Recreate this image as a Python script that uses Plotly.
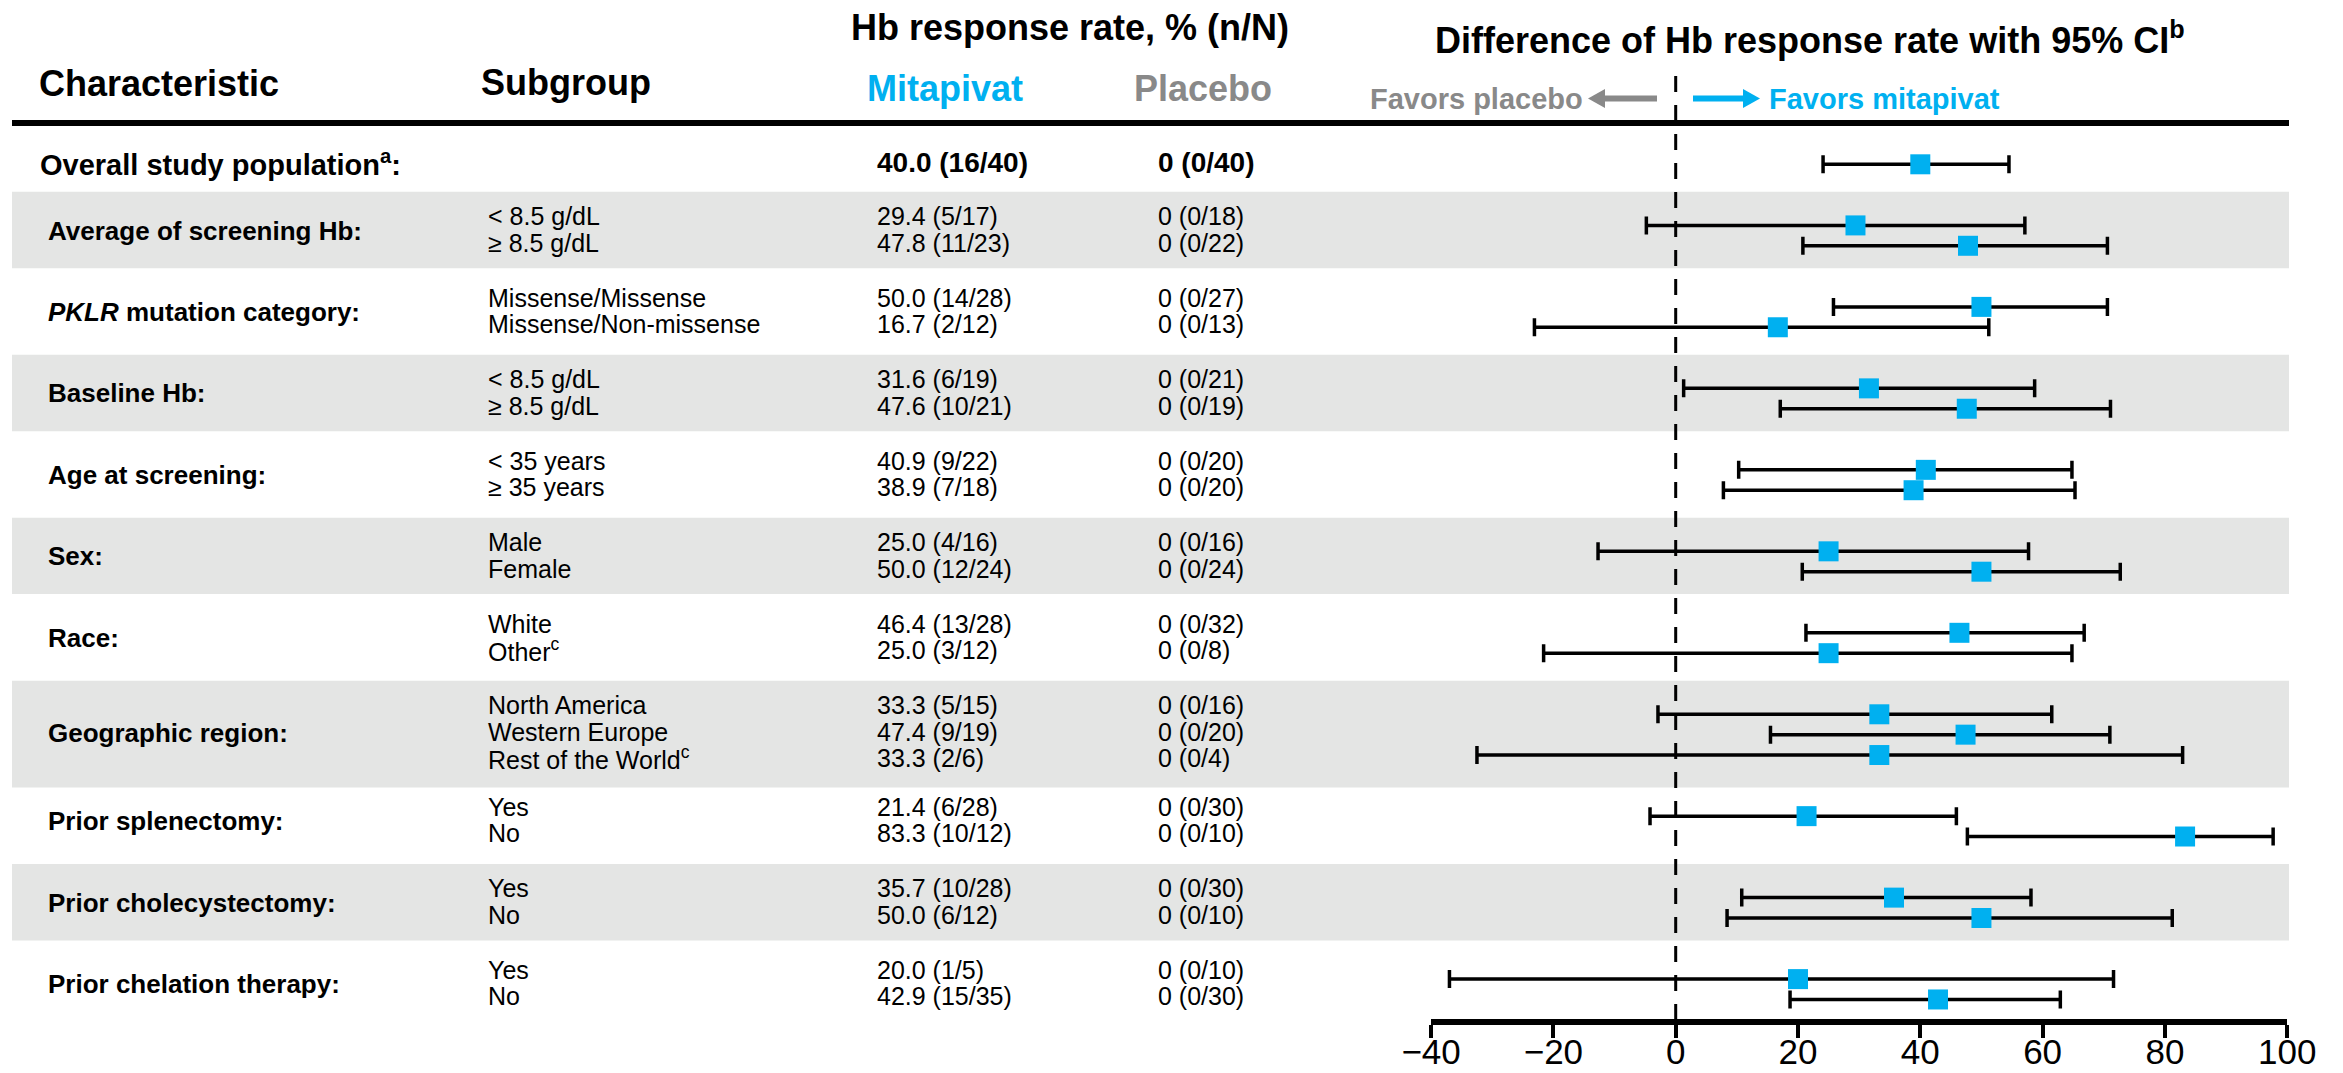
import plotly.graph_objects as go

# ---------------- data ----------------
characteristics = [
    "Overall study population<sup>a</sup>:",
    "Average of screening Hb:",
    "<i>PKLR</i> mutation category:",
    "Baseline Hb:",
    "Age at screening:",
    "Sex:",
    "Race:",
    "Geographic region:",
    "Prior splenectomy:",
    "Prior cholecystectomy:",
    "Prior chelation therapy:",
]
group_sizes = [1, 2, 2, 2, 2, 2, 2, 3, 2, 2, 2]

subgroups = [
    "",
    "< 8.5 g/dL", "≥ 8.5 g/dL",
    "Missense/Missense", "Missense/Non-missense",
    "< 8.5 g/dL", "≥ 8.5 g/dL",
    "< 35 years", "≥ 35 years",
    "Male", "Female",
    "White", "Other<sup>c</sup>",
    "North America", "Western Europe", "Rest of the World<sup>c</sup>",
    "Yes", "No",
    "Yes", "No",
    "Yes", "No",
]
mitapivat_pct = [40.0, 29.4, 47.8, 50.0, 16.7, 31.6, 47.6, 40.9, 38.9, 25.0, 50.0,
                 46.4, 25.0, 33.3, 47.4, 33.3, 21.4, 83.3, 35.7, 50.0, 20.0, 42.9]
mitapivat_n = [16, 5, 11, 14, 2, 6, 10, 9, 7, 4, 12, 13, 3, 5, 9, 2, 6, 10, 10, 6, 1, 15]
mitapivat_N = [40, 17, 23, 28, 12, 19, 21, 22, 18, 16, 24, 28, 12, 15, 19, 6, 28, 12, 28, 12, 5, 35]
placebo_n = [0, 0, 0, 0, 0, 0, 0, 0, 0, 0, 0, 0, 0, 0, 0, 0, 0, 0, 0, 0, 0, 0]
placebo_N = [40, 18, 22, 27, 13, 21, 19, 20, 20, 16, 24, 32, 8, 16, 20, 4, 30, 10, 30, 10, 10, 30]
ci_lower = [24.1, -4.8, 20.8, 25.8, -23.1, 1.3, 17.1, 10.3, 7.8, -12.7, 20.7,
            21.3, -21.6, -2.9, 15.5, -32.5, -4.2, 47.7, 10.8, 8.4, -37.0, 18.7]
ci_upper = [54.5, 57.1, 70.6, 70.6, 51.2, 58.7, 71.1, 64.8, 65.3, 57.7, 72.7,
            66.8, 64.8, 61.5, 71.0, 82.9, 45.9, 97.7, 58.1, 81.2, 71.6, 62.9]
x_ticks = [-40, -20, 0, 20, 40, 60, 80, 100]

# ---------------- styling / geometry ----------------
W, H = 2343, 1073
FONT = "Liberation Sans, Arial, Helvetica, sans-serif"
BLUE = "#00B0F0"
GREY = "#898989"
BAND = "#E4E5E4"

ROW0_PX = 164.3      # pixel position of the first row
ROW_PX = 20.37       # pixel height of one row unit
AXIS_PX = 1022       # pixel position of the x-axis line
X_LEFT_PX, X_RIGHT_PX = 1431.1, 2287.2   # pixel span of the -40..100 axis
RULE_X0, RULE_X1 = 12, 2289


def px_x(p):
    return p / W


def px_y(p):
    return 1 - p / H


# row positions: each group takes its own rows plus two spacer rows
group_start = []
rows = []
start = 0
for n in group_sizes:
    group_start.append(start)
    rows.extend(start + k for k in range(n))
    start += n + 2

placebo_pct = [100 * a / b for a, b in zip(placebo_n, placebo_N)]
difference = [m - p for m, p in zip(mitapivat_pct, placebo_pct)]

annotations = []
shapes = []


def add_text(x_px, y, text, size, color="black", xanchor="left", yref="y"):
    annotations.append(dict(
        x=px_x(x_px), xref="paper", y=y, yref=yref, text=text, showarrow=False,
        xanchor=xanchor, yanchor="middle",
        font=dict(family=FONT, size=size, color=color)))


def add_arrow(tail_px, tip_px, y_px, color, head_len=17, head_half=9.5, width=6):
    """Horizontal block arrow drawn as a shaft plus a filled triangular head."""
    direction = 1 if tip_px > tail_px else -1
    base = tip_px - direction * head_len
    shapes.append(dict(type="line", xref="paper", yref="paper",
                       x0=px_x(tail_px), x1=px_x(base + direction * 1),
                       y0=px_y(y_px), y1=px_y(y_px),
                       line=dict(color=color, width=width)))
    path = (f"M {px_x(tip_px)},{px_y(y_px)} "
            f"L {px_x(base)},{px_y(y_px - head_half)} "
            f"L {px_x(base)},{px_y(y_px + head_half)} Z")
    shapes.append(dict(type="path", xref="paper", yref="paper", path=path,
                       fillcolor=color, line=dict(width=0)))


# ---------------- table header ----------------
add_text(1070, px_y(27), "<b>Hb response rate, % (n/N)</b>", 36, yref="paper", xanchor="center")
add_text(1810, px_y(38), "<b>Difference of Hb response rate with 95% CI<sup>b</sup></b>", 36,
         yref="paper", xanchor="center")
add_text(37, px_y(83), "<b>Characteristic</b>", 36, yref="paper")
add_text(479, px_y(82), "<b>Subgroup</b>", 36, yref="paper")
add_text(945, px_y(88), "<b>Mitapivat</b>", 36, color=BLUE, yref="paper", xanchor="center")
add_text(1203, px_y(88), "<b>Placebo</b>", 36, color=GREY, yref="paper", xanchor="center")
add_text(1585, px_y(99), "<b>Favors placebo</b>", 29, color=GREY, yref="paper", xanchor="right")
add_text(1767, px_y(99), "<b>Favors mitapivat</b>", 29, color=BLUE, yref="paper")

# direction arrows either side of the zero line
add_arrow(1657, 1588, 98.5, GREY)
add_arrow(1693, 1760, 98.5, BLUE)

# thick rule under the header
shapes.append(dict(type="line", xref="paper", yref="paper",
                   x0=px_x(RULE_X0), x1=px_x(RULE_X1), y0=px_y(123), y1=px_y(123),
                   line=dict(color="black", width=6)))

# ---------------- table body ----------------
i = 0
for g, (label, n) in enumerate(zip(characteristics, group_sizes)):
    s = group_start[g]
    if n == 1:
        line_rows = [s - 0.1]
    else:
        line_rows = [s - 0.45 + 1.3 * k for k in range(n)]
    centre = sum(line_rows) / len(line_rows) + 0.05

    if g % 2 == 1:
        shapes.append(dict(type="rect", xref="paper", yref="y", layer="below",
                           x0=px_x(RULE_X0), x1=px_x(RULE_X1),
                           y0=s - 1.65, y1=s + (n - 1) + 1.1 + 0.5 * (n - 2),
                           fillcolor=BAND, line=dict(width=0)))

    overall = (g == 0)
    if overall:
        add_text(38, centre, f"<b>{label}</b>", 29)
    else:
        add_text(46, centre, f"<b>{label}</b>", 26)

    for k in range(n):
        y = line_rows[k]
        mit = f"{mitapivat_pct[i]:.1f} ({mitapivat_n[i]}/{mitapivat_N[i]})"
        pla = f"{placebo_pct[i]:g} ({placebo_n[i]}/{placebo_N[i]})"
        if overall:
            add_text(875, y, f"<b>{mit}</b>", 28)
            add_text(1156, y, f"<b>{pla}</b>", 28)
        else:
            add_text(486, y, subgroups[i], 25)
            add_text(875, y, mit, 25)
            add_text(1156, y, pla, 25)
        i += 1

# dashed reference line at zero difference
shapes.append(dict(type="line", xref="x", yref="paper", layer="below",
                   x0=0, x1=0, y0=px_y(76), y1=px_y(AXIS_PX),
                   line=dict(color="black", width=3, dash="16px,13px")))

# ---------------- forest plot ----------------
fig = go.Figure(go.Scatter(
    x=difference, y=rows, mode="markers",
    marker=dict(symbol="square", size=20, color=BLUE, line=dict(width=0)),
    error_x=dict(type="data", symmetric=False,
                 array=[u - d for u, d in zip(ci_upper, difference)],
                 arrayminus=[d - l for d, l in zip(difference, ci_lower)],
                 color="black", thickness=3.5, width=9),
    hoverinfo="skip", showlegend=False, cliponaxis=False,
))

fig.update_layout(
    width=W, height=H,
    margin=dict(l=0, r=0, t=0, b=0, pad=0, autoexpand=False),
    paper_bgcolor="white", plot_bgcolor="rgba(0,0,0,0)",
    font=dict(family=FONT, color="black"),
    showlegend=False,
    annotations=annotations,
    shapes=shapes,
    xaxis=dict(
        domain=[px_x(X_LEFT_PX), px_x(X_RIGHT_PX)],
        range=[-40, 100], tickvals=x_ticks,
        ticks="outside", ticklen=13, tickwidth=4, tickcolor="black",
        ticklabelstandoff=-16,
        showline=True, linewidth=6, linecolor="black",
        showgrid=False, zeroline=False, automargin=False,
        anchor="free", position=px_y(AXIS_PX),
        tickfont=dict(family=FONT, size=35, color="black"),
        fixedrange=True,
    ),
    yaxis=dict(
        domain=[0, 1],
        range=[(H - ROW0_PX) / ROW_PX, -ROW0_PX / ROW_PX],
        visible=False, fixedrange=True, automargin=False,
    ),
)

fig.write_html("out.html")
